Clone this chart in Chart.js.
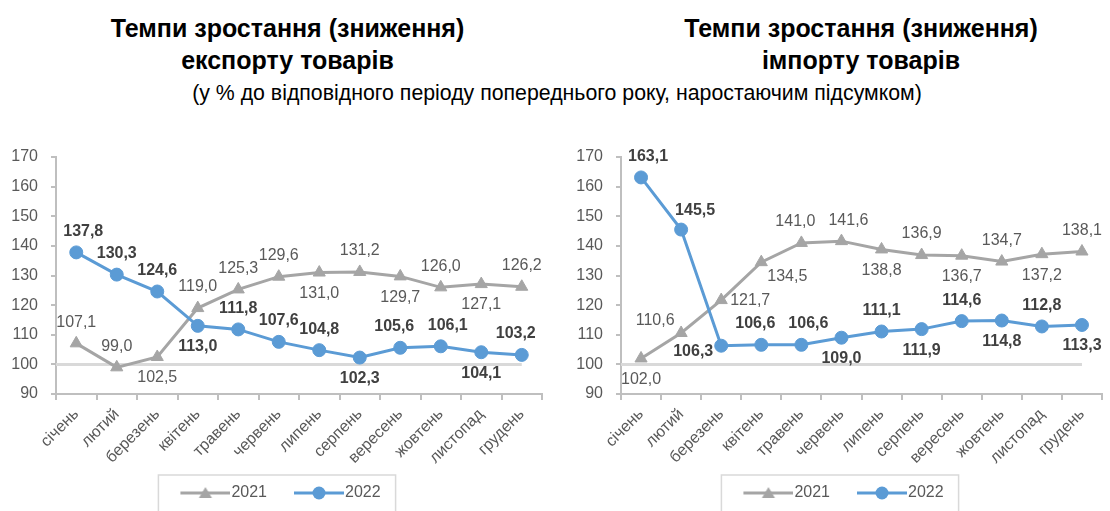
<!DOCTYPE html>
<html lang="uk">
<head>
<meta charset="utf-8">
<title>Темпи зростання (зниження) експорту та імпорту товарів</title>
<script src="https://cdn.jsdelivr.net/npm/chart.js@4.4.1/dist/chart.umd.min.js"></script>
<style>
  html, body { margin: 0; padding: 0; background: #fff; }
  body { width: 1110px; height: 511px; position: relative; overflow: hidden;
         font-family: 'Liberation Sans', Arial, sans-serif; color: #000; }
  .title { position: absolute; text-align: center; font-weight: bold; font-size: 25px; line-height: 32px; }
  .sub { position: absolute; text-align: center; font-size: 21.3px; line-height: 24px; }
  canvas { position: absolute; }
</style>
</head>
<body>
<div class="title" style="left:0; top:12px; width:575px;">Темпи зростання (зниження)<br>експорту товарів</div>
<div class="title" style="left:611px; top:12px; width:500px;">Темпи зростання (зниження)<br>імпорту товарів</div>
<div class="sub" style="left:107px; top:81px; width:900px;">(у % до відповідного періоду попереднього року, наростаючим підсумком)</div>

<canvas id="chartExport" width="555" height="381" style="left:0; top:130px;"></canvas>
<canvas id="chartImport" width="555" height="381" style="left:555px; top:130px;"></canvas>

<script>
// дані графіків
const months = ['січень', 'лютий', 'березень', 'квітень', 'травень', 'червень',
  'липень', 'серпень', 'вересень', 'жовтень', 'листопад', 'грудень'];
const seriesNames = ['2021', '2022'];
const yTicks = [90, 100, 110, 120, 130, 140, 150, 160, 170];
const baseLevel = 100;

const export2021 = [107.1, 99.0, 102.5, 119.0, 125.3, 129.6, 131.0, 131.2, 129.7, 126.0, 127.1, 126.2];
const export2022 = [137.8, 130.3, 124.6, 113.0, 111.8, 107.6, 104.8, 102.3, 105.6, 106.1, 104.1, 103.2];
const import2021 = [102.0, 110.6, 121.7, 134.5, 141.0, 141.6, 138.8, 136.9, 136.7, 134.7, 137.2, 138.1];
const import2022 = [163.1, 145.5, 106.3, 106.6, 106.6, 109.0, 111.1, 111.9, 114.6, 114.8, 112.8, 113.3];

// де ставити підписи значень (t - над, b - під, r/l - праворуч/ліворуч, L/R - трохи зсунути)
const expPos2021 = ['t', 't', 'b', 't', 't', 't', 'b', 't', 'b', 't', 'b', 't'];
const expPos2022 = ['tR', 't', 't', 'b', 't', 't', 't', 'b', 'tL', 'tR', 'b', 'tL'];
const impPos2021 = ['b', 'tl', 'r', 'br', 'tL', 'tR', 'b', 't', 'b', 't', 'b', 't'];
const impPos2022 = ['tR', 'tr', 'l', 'tL', 'tR', 'b', 't', 'b', 't', 'b', 't', 'b'];

const GRAY = '#A5A5A5';
const BLUE = '#5B9BD5';
const AXIS = '#BFBFBF';
const TEXT = '#595959';
const FONT = "'Liberation Sans', Arial, sans-serif";

const shift = {
  t: [0, -21], b: [0, 21], tL: [-6, -21], tR: [7, -21],
  r: [29, 1], l: [-28, 6], tr: [14, -19], br: [26, 14], tl: [-26, -12]
};

function fmt(v) { return v.toFixed(1).replace('.', ','); }

// маркер легенди: лінія з точкою (ліва частина картинки прозора,
// щоб лінія підходила впритул до тексту)
const ICON_BOX = 62;
function legendIcon(color, style) {
  const c = document.createElement('canvas');
  c.width = ICON_BOX + 14; c.height = 16;
  const g = c.getContext('2d');
  const x0 = 26, x1 = c.width, cx = (x0 + x1) / 2;
  g.strokeStyle = color; g.lineWidth = 3;
  g.beginPath(); g.moveTo(x0, 8); g.lineTo(x1, 8); g.stroke();
  g.fillStyle = color;
  g.beginPath();
  if (style === 'triangle') {
    g.moveTo(cx, 2); g.lineTo(cx + 6.5, 13); g.lineTo(cx - 6.5, 13); g.closePath();
  } else {
    g.arc(cx, 8, 6.5, 0, Math.PI * 2);
  }
  g.fill();
  return c;
}

// лінія на рівні 100
const baseLinePlugin = {
  id: 'baseLine',
  beforeDatasetsDraw(chart) {
    const { ctx, chartArea, scales } = chart;
    const y = scales.y.getPixelForValue(baseLevel);
    const x2 = scales.x.getPixelForValue(months.length - 1);
    ctx.save();
    ctx.strokeStyle = '#D9D9D9';
    ctx.lineWidth = 3;
    ctx.beginPath(); ctx.moveTo(chartArea.left, y); ctx.lineTo(x2, y); ctx.stroke();
    ctx.restore();
  }
};

// підписи значень біля точок
const valueLabelsPlugin = {
  id: 'valueLabels',
  afterDatasetsDraw(chart, args, opts) {
    const ctx = chart.ctx;
    ctx.save();
    ctx.textAlign = 'center';
    ctx.textBaseline = 'middle';
    chart.data.datasets.forEach((ds, di) => {
      const meta = chart.getDatasetMeta(di);
      const pos = opts.positions[di];
      const bold = di === 1;
      ctx.font = (bold ? 'bold ' : '') + '16px ' + FONT;
      ctx.fillStyle = bold ? '#404040' : TEXT;
      meta.data.forEach((pt, i) => {
        const d = shift[pos[i]];
        ctx.fillText(fmt(ds.data[i]), pt.x + d[0], pt.y + d[1]);
      });
    });
    ctx.restore();
  }
};

// рамка навколо легенди
const legendFramePlugin = {
  id: 'legendFrame',
  afterDraw(chart) {
    const hb = chart.legend.legendHitBoxes;
    if (!hb || !hb.length) return;
    const last = hb[hb.length - 1];
    const l = hb[0].left - 3;
    const r = last.left + last.width + 15;
    const t = hb[0].top - 10;
    const ctx = chart.ctx;
    ctx.save();
    ctx.strokeStyle = '#D9D9D9';
    ctx.lineWidth = 1.5;
    ctx.strokeRect(l, t, r - l, chart.height - t + 10);
    ctx.restore();
  }
};

function makeChart(id, d2021, d2022, pos2021, pos2022, padLeft, yWidth, padRight) {
  const icons = [legendIcon(GRAY, 'triangle'), legendIcon(BLUE, 'circle')];
  return new Chart(document.getElementById(id), {
    type: 'line',
    data: {
      labels: months,
      datasets: [
        {
          label: seriesNames[0], data: d2021, order: 2,
          borderColor: GRAY, backgroundColor: GRAY, borderWidth: 3,
          pointStyle: 'triangle', pointRadius: 7, pointBorderWidth: 1,
          pointBackgroundColor: GRAY, pointBorderColor: GRAY, tension: 0
        },
        {
          label: seriesNames[1], data: d2022, order: 1,
          borderColor: BLUE, backgroundColor: BLUE, borderWidth: 3,
          pointStyle: 'circle', pointRadius: 6.5, pointBorderWidth: 1,
          pointBackgroundColor: BLUE, pointBorderColor: BLUE, tension: 0
        }
      ]
    },
    options: {
      responsive: false,
      animation: false,
      layout: { padding: { left: padLeft, right: padRight, top: 27, bottom: 0 } },
      scales: {
        x: {
          offset: true,
          grid: { drawOnChartArea: false, offset: true, tickLength: 6, color: AXIS, lineWidth: 2 },
          border: { color: AXIS, width: 2 },
          ticks: { minRotation: 45, maxRotation: 45, autoSkip: false, padding: 5, color: TEXT,
                   font: { family: FONT, size: 16 } },
          afterFit(s) { s.height = 83; }
        },
        y: {
          min: yTicks[0], max: yTicks[yTicks.length - 1],
          afterBuildTicks(s) { s.ticks = yTicks.map(v => ({ value: v })); },
          grid: { drawOnChartArea: false, tickLength: 5, color: AXIS, lineWidth: 2 },
          border: { color: AXIS, width: 2 },
          ticks: { padding: 13, color: TEXT, font: { family: FONT, size: 16 } },
          afterFit(s) { s.width = yWidth; }
        }
      },
      plugins: {
        tooltip: { enabled: false },
        valueLabels: { positions: [pos2021, pos2022] },
        legend: {
          position: 'bottom',
          labels: {
            usePointStyle: true,
            pointStyleWidth: ICON_BOX,
            padding: 8,
            color: TEXT,
            font: { family: FONT, size: 16 },
            generateLabels: () => seriesNames.map((name, i) => ({
              text: name, datasetIndex: i, pointStyle: icons[i],
              fillStyle: i ? BLUE : GRAY, strokeStyle: i ? BLUE : GRAY,
              lineWidth: 0, hidden: false, fontColor: TEXT
            }))
          }
        }
      }
    },
    plugins: [baseLinePlugin, valueLabelsPlugin, legendFramePlugin]
  });
}

makeChart('chartExport', export2021, export2022, expPos2021, expPos2022, 0, 56, 13);
makeChart('chartImport', import2021, import2022, impPos2021, impPos2022, 6, 60, 3);
</script>
</body>
</html>
